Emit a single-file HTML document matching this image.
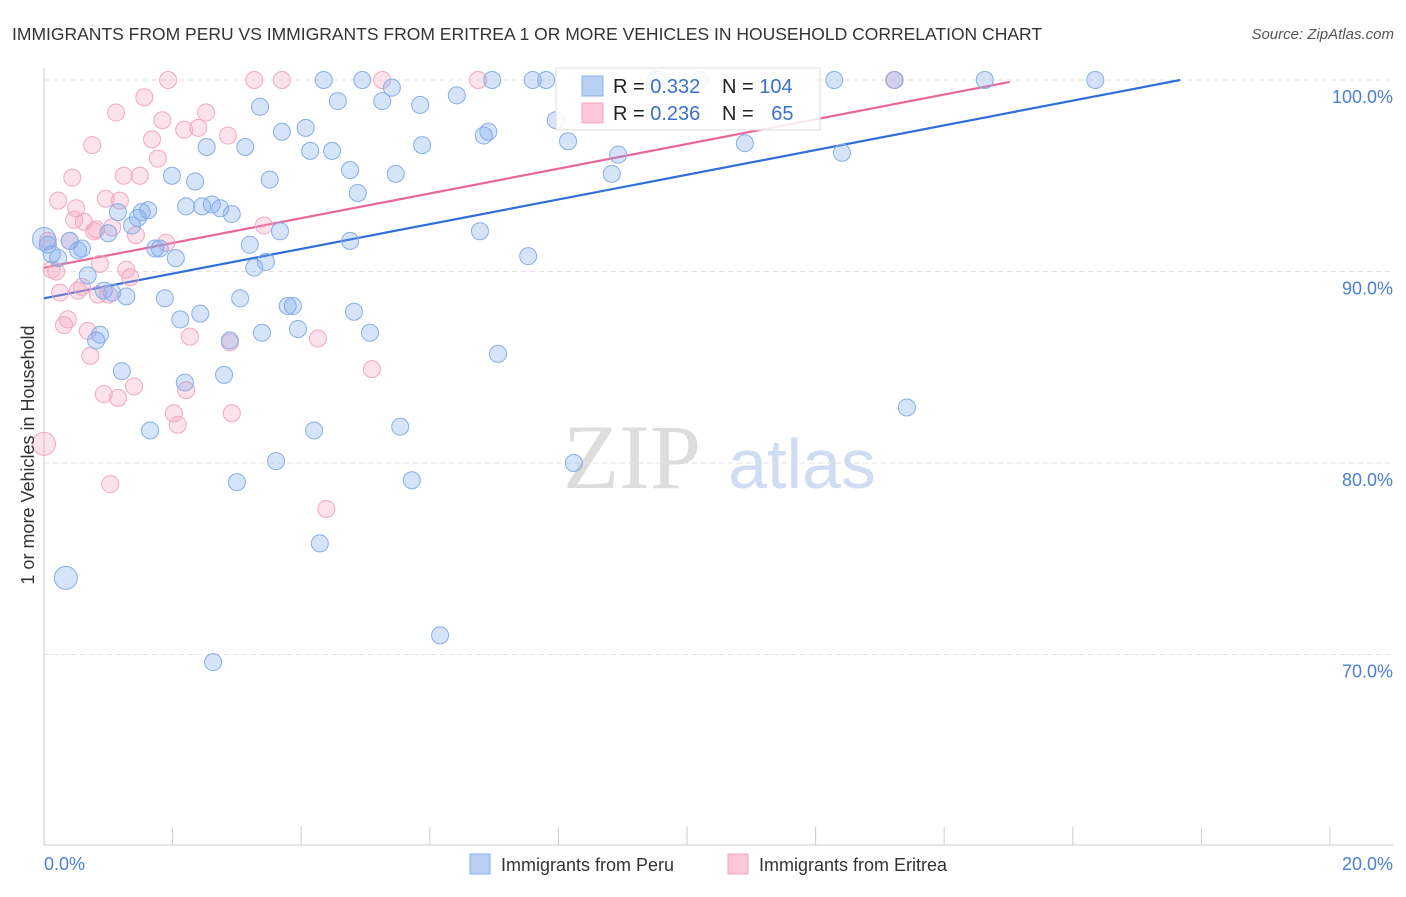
<!DOCTYPE html>
<html><head><meta charset="utf-8"><style>
body{margin:0;background:#fff;font-family:"Liberation Sans",sans-serif}
svg text{font-family:"Liberation Sans",sans-serif}
</style></head><body>
<svg id="chart" width="1406" height="892" xmlns="http://www.w3.org/2000/svg">
<text x="12" y="40" font-size="17.5" fill="#333">IMMIGRANTS FROM PERU VS IMMIGRANTS FROM ERITREA 1 OR MORE VEHICLES IN HOUSEHOLD CORRELATION CHART</text>
<text x="1394" y="39" font-size="15" fill="#555" font-style="italic" text-anchor="end">Source: ZipAtlas.com</text>
<g><text x="632" y="488" font-size="92" fill="#ddd" text-anchor="middle" font-family="Liberation Serif" style="font-family:'Liberation Serif',serif">ZIP</text><text x="802" y="488" font-size="70" fill="#cfdcf2" text-anchor="middle">atlas</text></g>
<g id="grid"></g><g id="axes"></g><g id="lines"></g><g id="pts"></g>
<text transform="translate(34,455) rotate(-90)" font-size="18" fill="#333" text-anchor="middle">1 or more Vehicles in Household</text>
<g>
<rect x="556" y="68" width="264" height="62" fill="#fff" fill-opacity="0.85" stroke="#ddd"/>
<rect x="582" y="76" width="21" height="20" fill="#b8d0f4" stroke="#8ab0ea"/>
<rect x="582" y="103" width="21" height="20" fill="#fcc8d8" stroke="#f2a4bc"/>
<text x="613" y="93" font-size="20" fill="#222">R = <tspan fill="#3a70cc">0.332</tspan></text>
<text x="722" y="93" font-size="20" fill="#222">N = <tspan fill="#3a70cc">104</tspan></text>
<text x="613" y="120" font-size="20" fill="#222">R = <tspan fill="#3a70cc">0.236</tspan></text>
<text x="722" y="120" font-size="20" fill="#222">N = <tspan fill="#3a70cc" dx="12">65</tspan></text>
</g>
<g>
<rect x="470" y="854" width="20" height="20" fill="#b8d0f4" stroke="#8ab0ea"/>
<text x="501" y="871" font-size="18" fill="#333">Immigrants from Peru</text>
<rect x="728" y="854" width="20" height="20" fill="#fcc8d8" stroke="#f2a4bc"/>
<text x="759" y="871" font-size="18" fill="#333">Immigrants from Eritrea</text>
</g>
</svg>
<script>
const xTicks=[0,2,4,6,8,10,12,14,16,18,20];
const yTicks=[70,80,90,100];
const peruX=[0.06,0.12,0.22,0.34,0.40,0.53,0.59,0.68,0.81,0.87,0.93,1.00,1.06,1.15,1.21,1.28,1.37,1.46,1.52,1.62,1.65,1.73,1.80,1.88,1.99,2.05,2.12,2.19,2.21,2.35,2.43,2.46,2.53,2.63,2.61,2.74,2.80,2.89,2.92,3.00,3.05,3.13,3.20,3.27,3.36,3.39,3.45,3.51,3.61,3.67,3.70,3.79,3.87,3.95,4.07,4.14,4.20,4.29,4.35,4.48,4.57,4.76,4.76,4.82,4.88,4.95,5.07,5.26,5.41,5.47,5.54,5.72,5.85,5.88,6.16,6.42,6.78,6.84,6.91,6.97,7.06,7.53,7.60,7.81,7.96,8.15,8.24,8.83,8.93,9.52,10.20,10.90,12.29,12.41,13.23,13.42,14.63,16.35,0.0];
const peruY=[91.4,90.9,90.7,74.0,91.6,91.1,91.2,89.8,86.4,86.7,89.0,92.0,88.9,93.1,84.8,88.7,92.4,92.8,93.1,93.2,81.7,91.2,91.2,88.6,95.0,90.7,87.5,84.2,93.4,94.7,87.8,93.4,96.5,69.6,93.5,93.3,84.6,86.4,93.0,79.0,88.6,96.5,91.4,90.2,98.6,86.8,90.5,94.8,80.1,92.1,97.3,88.2,88.2,87.0,97.5,96.3,81.7,75.8,100,96.3,98.9,91.6,95.3,87.9,94.1,100,86.8,98.9,99.6,95.1,81.9,79.1,98.7,96.6,71.0,99.2,92.1,97.1,97.3,100,85.7,90.8,100,100,97.9,96.8,80.0,95.1,96.1,100,100,96.7,100,96.2,100,82.9,100,100,91.7];
const eriX=[0.0,0.06,0.12,0.19,0.22,0.25,0.31,0.37,0.40,0.44,0.47,0.50,0.53,0.59,0.62,0.68,0.72,0.75,0.78,0.81,0.84,0.87,0.93,0.96,1.00,1.06,1.12,1.15,1.18,1.24,1.28,1.34,1.40,1.43,1.49,1.56,1.68,1.77,1.84,1.90,1.93,2.02,2.08,2.18,2.21,2.27,2.40,2.52,2.86,2.89,2.92,3.27,3.42,3.70,4.26,4.39,5.10,5.26,6.75,13.22,1.03];
const eriY=[81.0,91.6,90.1,90.0,93.7,88.9,87.2,87.5,91.6,94.9,92.7,93.3,89.0,89.2,92.6,86.9,85.6,96.6,92.1,92.2,88.8,90.4,83.6,93.8,88.8,92.3,98.3,83.4,93.7,95.0,90.1,89.7,84.0,91.9,95.0,99.1,96.9,95.9,97.9,91.5,100,82.6,82.0,97.4,83.8,86.6,97.5,98.3,97.1,86.3,82.6,100,92.4,100,86.5,77.6,84.9,100,100,100,78.9];
const peruLine=[0,88.6,17.67,100];
const eriLine=[0,90.2,15.02,99.9];
const NS="http://www.w3.org/2000/svg";
const X=v=>44+v*64.3, Y=v=>80+(100-v)*19.15;
function mk(t,a,p){const e=document.createElementNS(NS,t);for(const k in a)e.setAttribute(k,a[k]);p.appendChild(e);return e;}
const grid=document.getElementById('grid'),axes=document.getElementById('axes'),lines=document.getElementById('lines'),pts=document.getElementById('pts');
yTicks.forEach(v=>{
 const l=mk('line',{x1:44,x2:1393,y1:Y(v),y2:Y(v),stroke:'#e2e2e2','stroke-dasharray':'5,4'},grid);
 
 
 const t=mk('text',{x:1393,y:Y(v)+23,'font-size':18,fill:'#4a7fd4','text-anchor':'end'},axes);
 t.textContent=v.toFixed(1)+'%';
 
 
});
mk('line',{x1:44,x2:44,y1:68,y2:845,stroke:'#ccc'},axes);
mk('line',{x1:44,x2:1393,y1:845,y2:845,stroke:'#ccc'},axes);
xTicks.forEach(v=>{
 const l=mk('line',{x1:X(v),x2:X(v),y1:827,y2:845,stroke:'#ccc'},axes);
 
 
});
[[0,'start',44],[20,'end',1393]].forEach(([v,a,x])=>{
 const t=mk('text',{x:x,y:870,'font-size':18,fill:'#4a7fd4','text-anchor':a},axes);
 t.textContent=v.toFixed(1)+'%';
 
 
});
function dots(xs,ys,fill,stroke,name){
 xs.forEach((x,i)=>{
  const big=(name==='peru-point'&&(i===3||i===xs.length-1))||(name==='eritrea-point'&&i===0);
  const c=mk('circle',{cx:X(x),cy:Y(ys[i]),r:big?11.5:8.5,fill:fill,stroke:stroke,'stroke-width':1},pts);
  
  
 });
}
dots(eriX,eriY,'rgba(245,160,190,0.3)','#f2a8c0','eritrea-point');
dots(peruX,peruY,'rgba(120,165,235,0.3)','#86aee8','peru-point');
const l1=mk('line',{x1:X(peruLine[0]),y1:Y(peruLine[1]),x2:X(peruLine[2]),y2:Y(peruLine[3]),stroke:'#2f6fd6','stroke-width':2.2},lines);


const l2=mk('line',{x1:X(eriLine[0]),y1:Y(eriLine[1]),x2:X(eriLine[2]),y2:Y(eriLine[3]),stroke:'#e8679a','stroke-width':2.2},lines);


</script>
</body></html>
